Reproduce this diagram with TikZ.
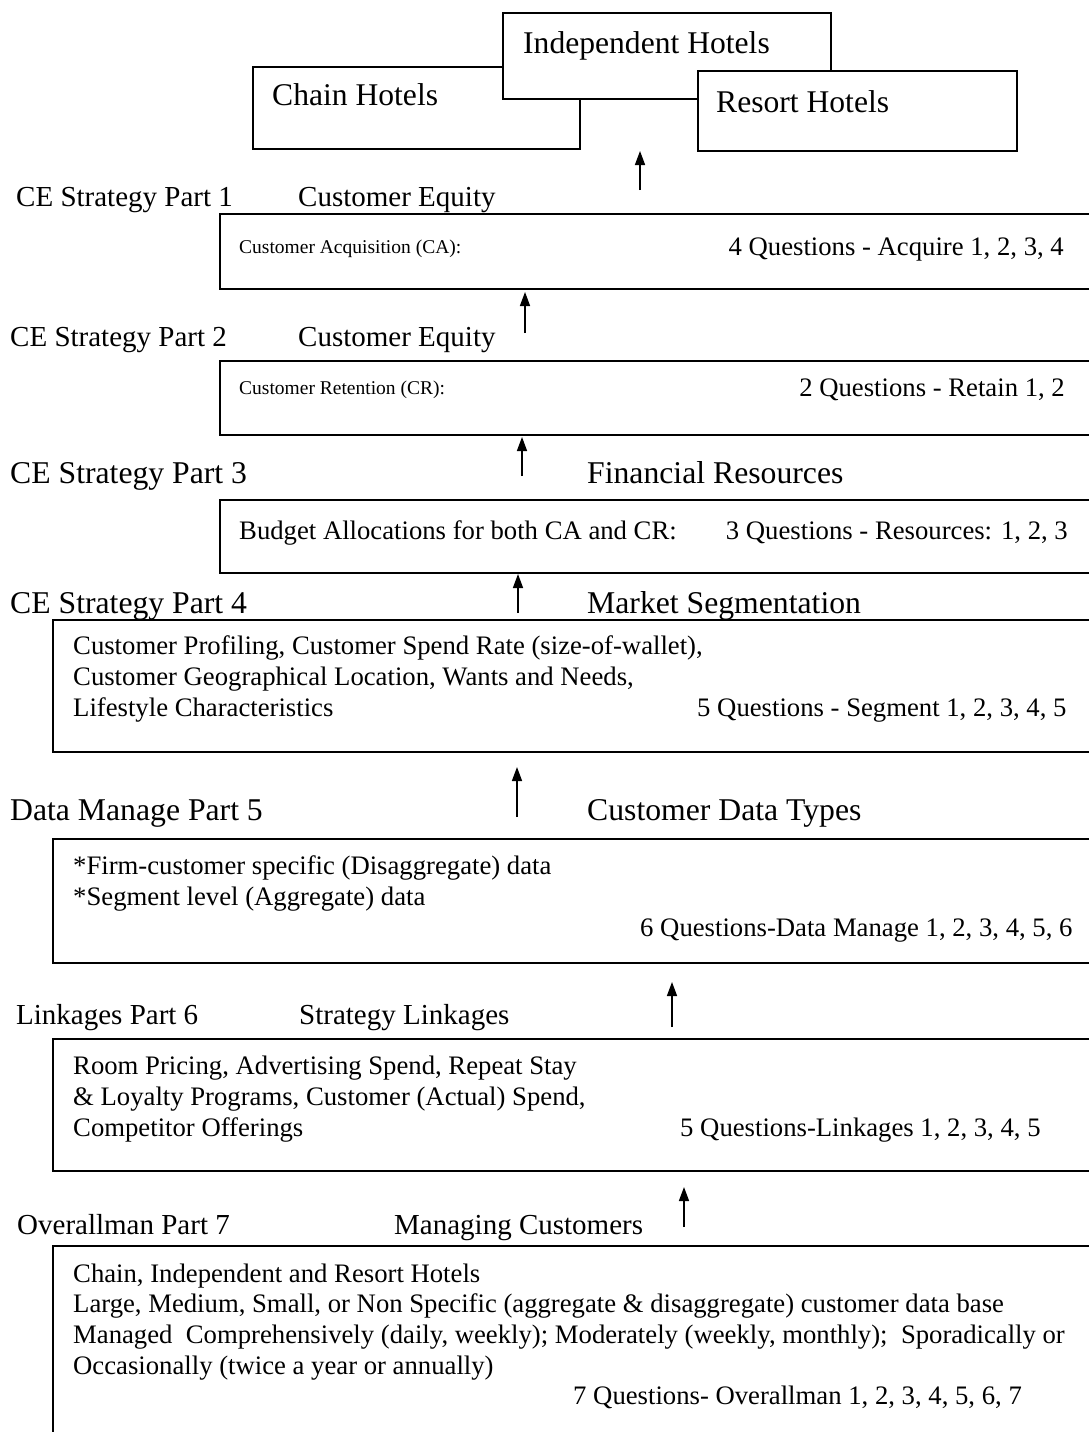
\documentclass[tikz,border=0pt]{standalone}
\usepackage{fontspec}
\setmainfont{Liberation Serif}
\usetikzlibrary{arrows.meta}
\begin{document}
\begin{tikzpicture}[x=1pt,y=-1pt,
  frame/.style={draw, line width=1.8pt, fill=white, inner sep=0pt, anchor=north west},
  lbl/.style={anchor=base west, inner sep=0pt, font=\fontsize{29}{34}\selectfont},
  biglbl/.style={anchor=base west, inner sep=0pt, font=\fontsize{31.7}{37}\selectfont},
  hlbl/.style={anchor=base west, inner sep=0pt, font=\fontsize{31.6}{37}\selectfont},
  smalltxt/.style={anchor=base west, inner sep=0pt, font=\fontsize{19.5}{23}\selectfont},
  txt/.style={anchor=base west, inner sep=0pt, font=\fontsize{26.7}{31}\selectfont},
  qtxt/.style={anchor=base east, inner sep=0pt, font=\fontsize{26.7}{31}\selectfont},
  up/.style={-{Triangle[length=14pt,width=10pt]}, line width=1.5pt}]
\useasboundingbox (0,0) rectangle (1089,1432);
\clip (0,0) rectangle (1089,1432);

% hotel types, overlapping frames
\node[frame, minimum width=327pt, minimum height=82pt] (chain) at (252,66) {};
\node[hlbl] (chaint) at (272,105.5) {Chain Hotels};
\node[frame, minimum width=328pt, minimum height=86pt] (indep) at (502,12) {};
\node[hlbl] (indept) at (523,53.5) {Independent Hotels};
\node[frame, minimum width=319pt, minimum height=80pt] (resort) at (697,70) {};
\node[hlbl] (resortt) at (716,112.5) {Resort Hotels};

% part 1
\node[lbl] (p1) at (16,206.6) {CE Strategy Part 1};
\node[lbl] (p1h) at (298,206.6) {Customer Equity};
\node[frame, minimum width=900pt, minimum height=75pt] (box1) at (219,213) {};
\node[smalltxt] (b1l) at (239,253) {Customer Acquisition (CA):};
\node[qtxt] (b1q) at (1064,255) {4 Questions - Acquire 1, 2, 3, 4};

% part 2
\node[lbl] (p2) at (10,346.6) {CE Strategy Part 2};
\node[lbl] (p2h) at (298,346.6) {Customer Equity};
\node[frame, minimum width=900pt, minimum height=74pt] (box2) at (219,360) {};
\node[smalltxt] (b2l) at (239,394) {Customer Retention (CR):};
\node[qtxt] (b2q) at (1065,396) {2 Questions - Retain 1, 2};

% part 3
\node[biglbl] (p3) at (10,483.5) {CE Strategy Part 3};
\node[biglbl] (p3h) at (587,483.5) {Financial Resources};
\node[frame, minimum width=900pt, minimum height=73pt] (box3) at (219,499) {};
\node[txt] (b3l) at (239,539) {Budget Allocations for both CA and CR:};
\node[qtxt] (b3q) at (1068,539) {3 Questions - Resources: 1, 2, 3};

% part 4
\node[biglbl] (p4) at (10,613.5) {CE Strategy Part 4};
\node[biglbl] (p4h) at (587,613.5) {Market Segmentation};
\node[frame, minimum width=1080pt, minimum height=132pt] (box4) at (52,619) {};
\node[txt] (b4a) at (73,654) {Customer Profiling, Customer Spend Rate (size-of-wallet),};
\node[txt] (b4b) at (73,685) {Customer Geographical Location, Wants and Needs,};
\node[txt] (b4c) at (73,716) {Lifestyle Characteristics};
\node[txt] (b4q) at (697,716) {5 Questions - Segment 1, 2, 3, 4, 5};

% part 5
\node[biglbl] (p5) at (10,820.5) {Data Manage Part 5};
\node[biglbl] (p5h) at (587,820.5) {Customer Data Types};
\node[frame, minimum width=1080pt, minimum height=124pt] (box5) at (52,838) {};
\node[txt] (b5a) at (73,874) {*Firm-customer specific (Disaggregate) data};
\node[txt] (b5b) at (73,905) {*Segment level (Aggregate) data};
\node[txt] (b5q) at (640,936) {6 Questions-Data Manage 1, 2, 3, 4, 5, 6};

% part 6
\node[lbl] (p6) at (16,1024.6) {Linkages Part 6};
\node[lbl] (p6h) at (299,1024.6) {Strategy Linkages};
\node[frame, minimum width=1080pt, minimum height=132pt] (box6) at (52,1038) {};
\node[txt] (b6a) at (73,1074) {Room Pricing, Advertising Spend, Repeat Stay};
\node[txt] (b6b) at (73,1105) {\& Loyalty Programs, Customer (Actual) Spend,};
\node[txt] (b6c) at (73,1136) {Competitor Offerings};
\node[txt] (b6q) at (680,1136) {5 Questions-Linkages 1, 2, 3, 4, 5};

% part 7
\node[lbl] (p7) at (17,1234.6) {Overallman Part 7};
\node[lbl] (p7h) at (394,1234.6) {Managing Customers};
\node[frame, minimum width=1080pt, minimum height=240pt] (box7) at (52,1245) {};
\node[txt] (b7a) at (73,1282) {Chain, Independent and Resort Hotels};
\node[txt] (b7b) at (73,1312) {Large, Medium, Small, or Non Specific (aggregate \& disaggregate) customer data base};
\node[txt] (b7c) at (73,1343) {Managed\ \ Comprehensively (daily, weekly); Moderately (weekly, monthly);\ \ Sporadically or};
\node[txt] (b7d) at (73,1374) {Occasionally (twice a year or annually)};
\node[txt] (b7q) at (573,1404) {7 Questions- Overallman 1, 2, 3, 4, 5, 6, 7};

% upward arrows between the levels
\coordinate (a0t) at (640,190);  \coordinate (a0h) at (640,151);
\coordinate (a1t) at (525,333);  \coordinate (a1h) at (525,292);
\coordinate (a2t) at (522,476);  \coordinate (a2h) at (522,437);
\coordinate (a3t) at (518,613);  \coordinate (a3h) at (518,574);
\coordinate (a4t) at (517,817);  \coordinate (a4h) at (517,767);
\coordinate (a5t) at (672,1027); \coordinate (a5h) at (672,982);
\coordinate (a6t) at (684,1227); \coordinate (a6h) at (684,1187);
\foreach \i in {0,...,6} \draw[up] (a\i t) -- (a\i h);
\end{tikzpicture}
\end{document}
